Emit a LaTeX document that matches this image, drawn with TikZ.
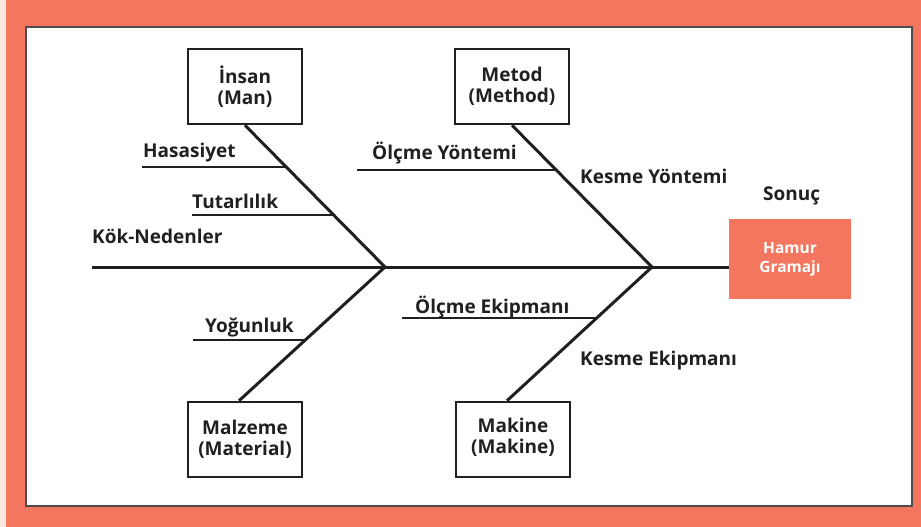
\documentclass[tikz,border=0pt]{standalone}
\usepackage{fontspec}
\setmainfont{Open Sans}
\usetikzlibrary{calc}
\definecolor{salmon}{HTML}{F4765E}
\definecolor{blush}{HTML}{FCE7DF}
\definecolor{ink}{HTML}{231F20}

\begin{document}
\begin{tikzpicture}[x=1pt, y=-1pt,
  every node/.style={font=\fontsize{19}{21}\selectfont\bfseries, text=ink},
  cause/.style={draw=ink, line width=2.5pt, minimum width=114pt, minimum height=75pt, align=center, inner sep=2pt},
  tag/.style={anchor=base west, inner sep=0pt},
  bone/.style={draw=ink, line width=3pt},
  rib/.style={draw=ink, line width=2.5pt}]
\useasboundingbox (0,0) rectangle (921,527);
\fill[salmon] (0,0) rectangle (921,527);
\fill[blush] (0,0) rectangle (6,527);
\draw[fill=white, draw=ink!80, line width=1.2pt] (26,27) rectangle (912,506);

\node[cause] (insan) at (245,86.5) {İnsan\\(Man)};
\node[cause] (metod) at (512,86.5) {Metod\\(Method)};
\node[cause] (malzeme) at (245,439.5) {Malzeme\\(Material)};
\node[cause] (makine) at (513,439.5) {Makine\\(Makine)\\[-14pt]};
\node[fill=salmon, minimum width=122pt, minimum height=80pt, align=center, text=white,
  font=\fontsize{15.5}{19}\selectfont\bfseries] (sonuc) at (790,259) {Hamur\\Gramajı};
\node[tag] (sonuclabel) at (763,200) {Sonuç};

\coordinate (tail) at (92,267);
\coordinate (j1) at (385,267);
\coordinate (j2) at (652,267);
\draw[bone] (tail) -- (j1) -- (j2) -- (j2 -| sonuc.west);

\draw[bone] (insan.south) -- coordinate[pos=0.296] (insan1) coordinate[pos=0.634] (insan2) (j1);
\draw[bone] (metod.south) -- coordinate[pos=0.319] (metod1) (j2);
\draw[bone] ([xshift=-6pt]malzeme.north) -- coordinate[pos=0.455] (malzeme1) (j1);
\draw[bone] ([xshift=-6pt]makine.north) -- coordinate[pos=0.619] (makine1) (j2);

\coordinate (hasasiyet) at (142,167);
\coordinate (tutarlilik) at (192,215);
\coordinate (olcmeyontem) at (357,170);
\coordinate (yogunluk) at (193,340);
\coordinate (olcmeekip) at (402,318);
\draw[rib] (hasasiyet) -- (hasasiyet -| insan1);
\draw[rib] (tutarlilik) -- (tutarlilik -| insan2);
\draw[rib] (olcmeyontem) -- (olcmeyontem -| metod1);
\draw[rib] (yogunluk) -- (yogunluk -| malzeme1);
\draw[rib] (olcmeekip) -- (olcmeekip -| makine1);

\node[tag] (hasasiyetlabel) at (143,157) {Hasasiyet};
\node[tag] (tutarlilik label) at (192,208) {Tutarlılık};
\node[tag] (koklabel) at (92,243) {Kök-Nedenler};
\node[tag] (olcmeyontemlabel) at (372,159) {Ölçme Yöntemi};
\node[tag] (kesmeyontemlabel) at (580,183) {Kesme Yöntemi};
\node[tag] (yogunluklabel) at (205,332) {Yoğunluk};
\node[tag] (olcmeekiplabel) at (415,313) {Ölçme Ekipmanı};
\node[tag] (kesmeekiplabel) at (580,365) {Kesme Ekipmanı};
\end{tikzpicture}
\end{document}
